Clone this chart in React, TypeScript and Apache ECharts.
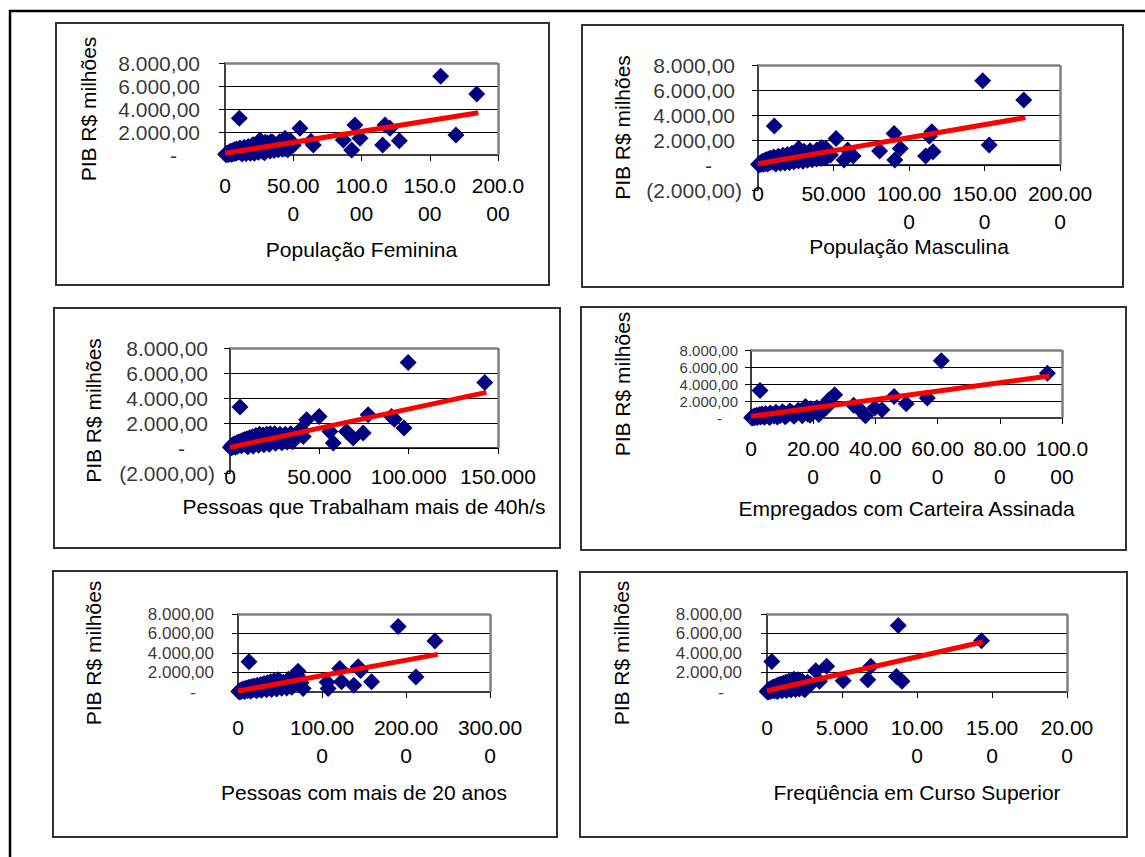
import React, { useEffect, useRef } from "react";
import * as echarts from "echarts";

const FONT = "'Liberation Sans', Arial, Helvetica, sans-serif";
const FS = 21;

// ---------- tick labels ----------
const yTicks = [-2000, 0, 2000, 4000, 6000, 8000];
const yTickText = ["(2.000,00)", "-", "2.000,00", "4.000,00", "6.000,00", "8.000,00"];
const yAxisTitle = "PIB R$ milhões";

const femTicks = ["0", "50.00\n0", "100.0\n00", "150.0\n00", "200.0\n00"];
const mascTicks = ["0", "50.000", "100.00\n0", "150.00\n0", "200.00\n0"];
const trabTicks = ["0", "50.000", "100.000", "150.000"];
const empTicks = ["0", "20.00\n0", "40.00\n0", "60.00\n0", "80.00\n0", "100.0\n00"];
const p20Ticks = ["0", "100.00\n0", "200.00\n0", "300.00\n0"];
const supTicks = ["0", "5.000", "10.00\n0", "15.00\n0", "20.00\n0"];

// ---------- series: [x, PIB] ----------
const femPoints: number[][] = [
  [158000, 6850], [184400, 5300], [10500, 3200], [169200, 1740], [54900, 2320], [95200, 2610],
  [98900, 1450], [92800, 430], [86700, 1300], [117200, 2600], [120900, 2320], [115500, 870],
  [127700, 1250], [64700, 870], [63000, 1200], [25600, 1300], [42700, 1250], [44000, 1450],
  [500, 60], [900, 30], [1200, 120], [1600, 80], [2000, 180], [2400, 50], [2800, 140], [3200, 250],
  [3600, 90], [4000, 320], [4500, 180], [5000, 60], [5500, 380], [6000, 220], [6500, 120], [7000, 450],
  [7500, 300], [8000, 150], [8500, 520], [9000, 350], [10000, 250], [11000, 600], [12000, 420],
  [13000, 200], [14000, 680], [15000, 450], [16000, 300], [17000, 750], [18000, 520], [19000, 380],
  [20000, 820], [21000, 600], [22000, 350], [23000, 900], [24000, 650], [26000, 500], [27000, 1000],
  [28000, 750], [30000, 550], [31000, 1050], [32000, 800], [34000, 600], [35000, 1100], [37000, 850],
  [38000, 650], [40000, 1150], [41000, 900], [45000, 700], [47000, 1000], [48000, 1250], [50000, 850],
  [12500, 80], [15500, 120], [18500, 160], [21500, 150], [24500, 230], [27500, 300], [29000, 200],
  [33000, 350], [36000, 400], [39000, 450], [42000, 500], [44000, 550], [46000, 450], [33500, 1150],
  [29500, 1100], [25000, 950], [20500, 900],
];
const femTrend: number[][] = [[0, 150], [185600, 3680]];

const mascPoints: number[][] = [
  [148800, 6750], [176000, 5200], [10800, 3120], [153100, 1600], [51700, 2130], [90100, 2530],
  [94200, 1330], [90600, 400], [80500, 1120], [115100, 2670], [115900, 1070], [111000, 720],
  [113500, 2300], [57000, 400], [63000, 720], [59400, 1200], [45000, 1330], [27000, 1330],
  [400, 40], [800, 110], [1100, 20], [1500, 160], [1900, 70], [2300, 230], [2700, 120], [3100, 300],
  [3500, 60], [3900, 200], [4400, 350], [4900, 130], [5300, 420], [5800, 260], [6300, 90], [6800, 480],
  [7300, 320], [7800, 180], [8300, 560], [8800, 380], [9700, 240], [10500, 640], [11500, 450],
  [12500, 260], [13500, 700], [14500, 480], [15500, 330], [16500, 780], [17500, 560], [18500, 400],
  [19500, 850], [20500, 620], [21500, 380], [22500, 950], [23500, 680], [25000, 520], [26000, 1050],
  [27500, 780], [29000, 560], [30500, 1100], [31500, 820], [33000, 620], [34500, 1150], [36000, 880],
  [37500, 660], [39000, 1200], [40500, 930], [42000, 1400], [43500, 750], [46000, 1050], [48000, 800],
  [11800, 90], [14800, 140], [17800, 170], [20800, 200], [23800, 260], [26800, 320], [29800, 300],
  [32800, 380], [35800, 420], [38800, 480], [41800, 520], [44800, 560],
];
const mascTrend: number[][] = [[0, 100], [177100, 3790]];

const trabPoints: number[][] = [
  [99700, 6850], [142600, 5250], [5600, 3280], [97400, 1600], [49900, 2530], [42900, 2260],
  [77300, 2660], [90400, 2530], [92000, 2300], [74500, 1200], [65200, 1330], [68900, 800],
  [57800, 400], [55900, 1330], [41000, 930], [39700, 1500],
  [300, 40], [600, 120], [900, 20], [1200, 200], [1500, 80], [1800, 280], [2200, 150], [2600, 350],
  [3000, 60], [3400, 230], [3800, 420], [4300, 140], [4800, 480], [5300, 300], [5800, 520], [6400, 180],
  [7000, 600], [7600, 380], [8200, 680], [8800, 250], [9500, 750], [10200, 480], [11000, 820],
  [11800, 320], [12600, 900], [13500, 600], [14500, 1000], [15500, 420], [16500, 1100], [17500, 700],
  [18500, 1050], [19500, 500], [20500, 1100], [21500, 850], [22500, 1150], [23500, 600], [25000, 1150],
  [26500, 800], [28000, 1100], [29500, 650], [31000, 1100], [32500, 900], [34000, 1150], [35500, 750],
  [37000, 1000], [10000, 100], [13000, 150], [16000, 220], [19000, 260], [22000, 300], [25500, 380],
  [29000, 420], [32000, 480], [35000, 500],
];
const trabTrend: number[][] = [[0, 50], [143500, 4450]];

const empPoints: number[][] = [
  [61200, 6740], [95300, 5260], [2900, 3230], [49900, 1670], [46000, 2530], [56700, 2340],
  [42100, 970], [39800, 1170], [36800, 270], [34500, 1170], [33000, 1500], [26900, 2730],
  [25100, 2140], [23000, 1300], [17500, 1360],
  [200, 30], [400, 100], [600, 10], [800, 180], [1000, 60], [1200, 250], [1500, 120], [1800, 320],
  [2100, 50], [2400, 200], [2700, 400], [3100, 130], [3500, 460], [3900, 280], [4300, 80], [4700, 520],
  [5200, 330], [5700, 180], [6200, 600], [6800, 400], [7400, 250], [8000, 680], [8700, 470], [9400, 300],
  [10100, 750], [10900, 520], [11700, 350], [12500, 830], [13400, 600], [14300, 420], [15200, 900],
  [16200, 650], [17200, 1000], [18200, 480], [19200, 1100], [20200, 750], [21200, 1200], [22200, 900],
  [23200, 1000], [24200, 1250], [6000, 60], [8500, 120], [11000, 160], [13800, 200], [16500, 260],
  [19000, 320], [21800, 420],
];
const empTrend: number[][] = [[0, 190], [95900, 4950]];

const p20Points: number[][] = [
  [190700, 6720], [234400, 5240], [13100, 3100], [211800, 1550], [121200, 2420], [123200, 1040],
  [143000, 2580], [145800, 2200], [137900, 690], [159000, 1040], [107300, 350], [106000, 1000],
  [71500, 2140], [70700, 1700], [77500, 350], [61000, 1050], [50000, 1100],
  [800, 40], [1600, 110], [2400, 20], [3200, 190], [4000, 80], [5000, 260], [6000, 140], [7000, 340],
  [8000, 60], [9000, 230], [10000, 420], [11500, 150], [13000, 480], [14500, 300], [16000, 540],
  [17500, 200], [19000, 620], [21000, 400], [23000, 700], [25000, 280], [27000, 780], [29000, 520],
  [31000, 860], [33000, 360], [35000, 950], [37000, 640], [39000, 1050], [41000, 450], [43000, 1150],
  [45000, 760], [48000, 1250], [51000, 600], [54000, 1000], [57000, 800], [60000, 1300], [63000, 700],
  [66000, 1100], [69000, 900], [72000, 1400], [75000, 950], [15000, 80], [22000, 120], [28000, 180],
  [34000, 220], [40000, 260], [46000, 320], [52000, 380], [58000, 420], [64000, 480],
];
const p20Trend: number[][] = [[0, 100], [237700, 3860]];

const supPoints: number[][] = [
  [8750, 6830], [14300, 5260], [320, 3140], [8630, 1600], [9000, 1090], [6920, 2630],
  [6720, 1260], [5080, 1160], [3980, 2630], [3250, 2180], [3500, 1090], [2520, 240],
  [2230, 1090], [1800, 1300],
  [20, 20], [40, 80], [60, 10], [80, 150], [100, 50], [130, 220], [160, 100], [190, 300], [220, 40],
  [250, 180], [290, 380], [330, 120], [370, 450], [410, 250], [450, 520], [500, 90], [550, 330],
  [600, 600], [650, 200], [700, 680], [760, 420], [820, 750], [880, 300], [950, 820], [1020, 550],
  [1100, 900], [1180, 400], [1260, 1000], [1350, 650], [1450, 1100], [1550, 500], [1650, 1200],
  [1750, 800], [1850, 1000], [1950, 650], [2050, 1250], [2200, 900], [2350, 1100], [2500, 700],
  [2700, 1000], [2900, 800], [700, 60], [1000, 120], [1300, 150], [1600, 200], [1900, 260],
  [2150, 320], [2400, 380],
];
const supTrend: number[][] = [[0, 130], [14380, 5130]];

// ---------- layout ----------
const panels = [
  { title: "População Feminina", points: femPoints, trend: femTrend, ticks: femTicks, xMax: 200000, xStep: 50000, yMin: 0, yFont: 21,
    grid: { left: 225, top: 63, width: 273, height: 92 }, box: [56, 23, 493, 262], yLabelMargin: 18, yNameGap: 126, xLabelMargin: 16, xNameGap: 84 },
  { title: "População Masculina", points: mascPoints, trend: mascTrend, ticks: mascTicks, xMax: 200000, xStep: 50000, yMin: -2000, yFont: 21,
    grid: { left: 758, top: 65, width: 302, height: 125 }, box: [582, 25, 541, 262], yLabelMargin: 16, yNameGap: 125, xLabelMargin: -11, xNameGap: 43 },
  { title: "Pessoas que Trabalham mais de 40h/s", points: trabPoints, trend: trabTrend, ticks: trabTicks, xMax: 150000, xStep: 50000, yMin: -2000, yFont: 21,
    grid: { left: 230, top: 348, width: 268, height: 125 }, box: [54, 308, 506, 240], yLabelMargin: 15, yNameGap: 126, xLabelMargin: -11, xNameGap: 23 },
  { title: "Empregados com Carteira Assinada", points: empPoints, trend: empTrend, ticks: empTicks, xMax: 100000, xStep: 20000, yMin: 0, yFont: 15,
    grid: { left: 751, top: 350, width: 311, height: 68 }, box: [581, 307, 545, 243], yLabelMargin: 8, yNameGap: 118, xLabelMargin: 16, xNameGap: 80 },
  { title: "Pessoas com mais de 20 anos", points: p20Points, trend: p20Trend, ticks: p20Ticks, xMax: 300000, xStep: 100000, yMin: 0, yFont: 17,
    grid: { left: 238, top: 614, width: 252, height: 78 }, box: [53, 571, 504, 266], yLabelMargin: 18, yNameGap: 134, xLabelMargin: 21, xNameGap: 90 },
  { title: "Freqüência em Curso Superior", points: supPoints, trend: supTrend, ticks: supTicks, xMax: 20000, xStep: 5000, yMin: 0, yFont: 17,
    grid: { left: 767, top: 614, width: 300, height: 78 }, box: [580, 572, 547, 265], yLabelMargin: 19, yNameGap: 135, xLabelMargin: 21, xNameGap: 90 },
];

const Y_MAX = 8000;
const Y_STEP = 2000;

function yLabelRich(v: number) {
  const t = yTickText[yTicks.indexOf(v)] ?? "";
  if (v < 0) return "{n|" + t + "}";
  if (v === 0) return "{z|" + t + "}";
  return "{p|" + t + "}";
}

function buildOption() {
  const baseText = { fontSize: FS, fontFamily: FONT, color: "#000" };
  const grid: any[] = [];
  const xAxis: any[] = [];
  const yAxis: any[] = [];
  const series: any[] = [];
  const graphic: any[] = [
    { type: "line", shape: { x1: 9, y1: 11, x2: 1145, y2: 11 }, style: { stroke: "#000", lineWidth: 2.5 }, silent: true },
    { type: "line", shape: { x1: 10, y1: 10, x2: 10, y2: 857 }, style: { stroke: "#000", lineWidth: 2.5 }, silent: true },
  ];

  panels.forEach((p, i) => {
    const labelValues = yTicks.filter((v) => v >= p.yMin && v <= Y_MAX);
    const yText = { fontSize: p.yFont, fontFamily: FONT, color: "#000", lineHeight: p.yFont };
    const k = p.yFont / 21;
    const rich = {
      n: { ...yText },
      p: { ...yText, padding: [0, Math.round(7 * k), 0, 0] },
      z: { ...yText, padding: [0, Math.round(30 * k), 0, 0] },
    };
    grid.push({ ...p.grid, containLabel: false, show: false });
    graphic.push({
      type: "rect",
      shape: { x: p.box[0], y: p.box[1], width: p.box[2], height: p.box[3] },
      style: { fill: "none", stroke: "#333", lineWidth: 2 },
      silent: true,
      z: -1,
    });
    xAxis.push({
      type: "value",
      gridIndex: i,
      min: 0,
      max: p.xMax,
      interval: p.xStep,
      name: p.title,
      nameLocation: "middle",
      nameGap: p.xNameGap,
      nameTextStyle: { ...baseText },
      axisLine: { show: true, onZero: true, lineStyle: { color: "#000", width: 1.5 } },
      axisTick: { show: true, inside: false, length: 6, lineStyle: { color: "#000", width: 1 } },
      axisLabel: {
        ...baseText,
        lineHeight: 28,
        margin: p.xLabelMargin,
        showMinLabel: true,
        showMaxLabel: true,
        hideOverlap: false,
        formatter: (v: number) => p.ticks[Math.round(v / p.xStep)] ?? "",
      },
      splitLine: { show: false },
    });
    yAxis.push({
      type: "value",
      gridIndex: i,
      min: p.yMin,
      max: Y_MAX,
      interval: Y_STEP,
      name: yAxisTitle,
      nameLocation: "middle",
      nameRotate: 90,
      nameGap: p.yNameGap,
      nameTextStyle: { ...baseText },
      axisLine: { show: true, onZero: false, lineStyle: { color: "#000", width: 1.5 } },
      axisTick: { show: true, inside: false, length: 6, lineStyle: { color: "#000", width: 1 } },
      axisLabel: { show: false },
      splitLine: { show: true, showMinLine: false, showMaxLine: false, lineStyle: { color: "#000", width: 1 } },
    });
    // y tick labels, placed on the y axis through the axis scale
    series.push({
      type: "scatter",
      xAxisIndex: i,
      yAxisIndex: i,
      data: labelValues.map((v) => [0, v]),
      symbol: "circle",
      symbolSize: 0.01,
      clip: false,
      silent: true,
      itemStyle: { color: "rgba(0,0,0,0)" },
      label: {
        show: true,
        position: "left",
        distance: p.yLabelMargin,
        ...yText,
        formatter: (params: any) => yLabelRich(params.value[1]),
        rich,
      },
      labelLayout: { hideOverlap: false },
      z: 5,
    });
    series.push({
      type: "scatter",
      xAxisIndex: i,
      yAxisIndex: i,
      data: p.points,
      symbol: "diamond",
      symbolSize: 17,
      clip: false,
      itemStyle: { color: "#000080", opacity: 1 },
      z: 2,
      markLine: {
        silent: true,
        symbol: "none",
        label: { show: false },
        lineStyle: { color: "#808080", width: 2.5, type: "solid" },
        data: [
          [{ coord: [0, Y_MAX] }, { coord: [p.xMax, Y_MAX] }],
          [{ coord: [p.xMax, 0] }, { coord: [p.xMax, Y_MAX] }],
        ],
      },
    });
    series.push({
      type: "line",
      xAxisIndex: i,
      yAxisIndex: i,
      data: p.trend,
      symbol: "none",
      showSymbol: false,
      lineStyle: { color: "#ff0000", width: 5 },
      z: 3,
    });
  });

  return {
    animation: false,
    backgroundColor: "#fff",
    textStyle: { fontFamily: FONT },
    grid,
    xAxis,
    yAxis,
    series,
    graphic,
  };
}

export default function App() {
  const ref = useRef<HTMLDivElement>(null);
  useEffect(() => {
    if (!ref.current) return;
    const chart = echarts.init(ref.current, undefined, { renderer: "svg" });
    chart.setOption(buildOption() as any);
    return () => chart.dispose();
  }, []);
  return (
    <div style={{ position: "fixed", left: 0, top: 0, width: 1145, height: 857, background: "#fff" }}>
      <div ref={ref} style={{ width: 1145, height: 857 }} />
    </div>
  );
}
